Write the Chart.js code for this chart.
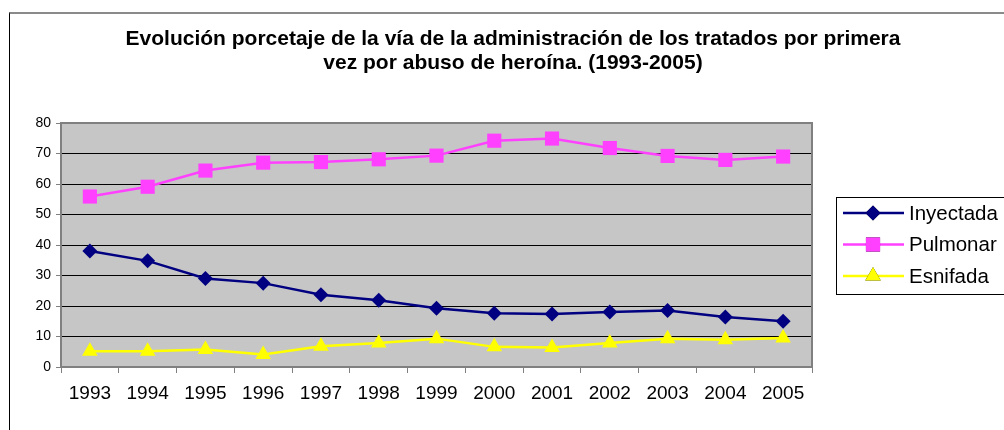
<!DOCTYPE html>
<html>
<head>
<meta charset="utf-8">
<script src="https://cdn.jsdelivr.net/npm/chart.js@4.4.1/dist/chart.umd.min.js"></script>
<style>
  html, body { margin: 0; padding: 0; background: #fff; }
  #wrap { position: relative; width: 1004px; height: 430px; overflow: hidden; }
  #frame { position: absolute; left: 9px; top: 12px; width: 1100px; height: 500px;
           border-left: 1px solid #000; border-top: 2px solid #8a8a8a; }
  canvas { position: absolute; left: 0; top: 0; }
</style>
</head>
<body>
<div id="wrap">
  <div id="frame"></div>
  <canvas id="chart" width="1004" height="430"></canvas>
</div>
<script>
// Data
const years = ['1993', '1994', '1995', '1996', '1997', '1998', '1999', '2000', '2001', '2002', '2003', '2004', '2005'];
const inyectada = [38.0, 34.8, 29.0, 27.5, 23.7, 21.9, 19.3, 17.6, 17.4, 18.0, 18.5, 16.4, 15.0];
const pulmonar = [55.9, 59.1, 64.4, 67.0, 67.2, 68.1, 69.3, 74.2, 74.9, 71.8, 69.2, 67.9, 69.0];
const esnifada = [5.2, 5.2, 5.7, 4.1, 6.8, 7.9, 9.3, 6.6, 6.4, 7.9, 9.3, 8.9, 9.5];
const yTicks = [0, 10, 20, 30, 40, 50, 60, 70, 80];

const titleLines = [
    'Evolución porcetaje de la vía de la administración de los tratados por primera',
    'vez por abuso de heroína. (1993-2005)'
];

const FONT = '"Liberation Sans", Arial, sans-serif';

const colors = {
    navy: '#000080',
    magenta: '#ff40ff',
    yellow: '#ffff00',
    plotBg: '#c6c6c6',
    axis: '#808080'
};

// gray plot area + gray top/right border
const plotBackground = {
    id: 'plotBackground',
    beforeDraw(chart) {
        const { ctx, chartArea: a } = chart;
        ctx.save();
        ctx.fillStyle = colors.plotBg;
        ctx.fillRect(a.left, a.top, a.right - a.left, a.bottom - a.top);
        ctx.restore();
    },
    beforeDatasetsDraw(chart) {
        const { ctx, chartArea: a } = chart;
        ctx.save();
        ctx.strokeStyle = colors.axis;
        ctx.lineWidth = 2;
        ctx.beginPath();
        ctx.moveTo(a.left, a.top);
        ctx.lineTo(a.right, a.top);
        ctx.lineTo(a.right, a.bottom);
        ctx.stroke();
        ctx.restore();
    }
};

// title centred on the whole frame, not just the plot
const frameTitle = {
    id: 'frameTitle',
    afterDraw(chart) {
        const { ctx } = chart;
        ctx.save();
        ctx.fillStyle = '#000';
        ctx.font = 'bold 21px ' + FONT;
        ctx.textAlign = 'center';
        ctx.textBaseline = 'middle';
        titleLines.forEach((line, i) => ctx.fillText(line, 513, 39 + i * 24));
        ctx.restore();
    }
};

// boxed legend on the right, as in the spreadsheet chart
const boxLegend = {
    id: 'boxLegend',
    afterDraw(chart) {
        const { ctx } = chart;
        ctx.save();
        ctx.strokeStyle = '#000';
        ctx.lineWidth = 1;
        ctx.strokeRect(836.5, 197.5, 200, 97);
        chart.data.datasets.forEach((ds, i) => {
            const y = 213 + i * 31.5;
            ctx.strokeStyle = ds.borderColor;
            ctx.lineWidth = 2.5;
            ctx.beginPath();
            ctx.moveTo(843, y);
            ctx.lineTo(904, y);
            ctx.stroke();
            Chart.helpers.drawPoint(ctx, {
                pointStyle: ds.pointStyle,
                radius: ds.pointRadius,
                borderWidth: 0
            }, 873, y);
            ctx.fillStyle = ds.pointBackgroundColor;
            ctx.fill();
            ctx.fillStyle = '#000';
            ctx.font = '20.5px ' + FONT;
            ctx.textBaseline = 'middle';
            ctx.fillText(ds.label, 909, y + 1);
        });
        ctx.restore();
    }
};

const ctx = document.getElementById('chart').getContext('2d');
new Chart(ctx, {
    type: 'line',
    data: {
        labels: years,
        datasets: [
            {
                label: 'Inyectada', data: inyectada,
                borderColor: colors.navy, backgroundColor: colors.navy,
                pointBackgroundColor: colors.navy, pointBorderColor: colors.navy,
                pointStyle: 'rectRot', pointRadius: 7.5, pointBorderWidth: 0, borderWidth: 2.5
            },
            {
                label: 'Pulmonar', data: pulmonar,
                borderColor: colors.magenta, backgroundColor: colors.magenta,
                pointBackgroundColor: colors.magenta, pointBorderColor: colors.magenta,
                pointStyle: 'rect', pointRadius: 10, pointBorderWidth: 0, borderWidth: 2.5
            },
            {
                label: 'Esnifada', data: esnifada,
                borderColor: colors.yellow, backgroundColor: colors.yellow,
                pointBackgroundColor: colors.yellow, pointBorderColor: colors.yellow,
                pointStyle: 'triangle', pointRadius: 9, pointBorderWidth: 0, borderWidth: 2.5
            }
        ]
    },
    options: {
        responsive: false,
        animation: false,
        devicePixelRatio: 1,
        layout: { padding: { left: 10, right: 192, top: 123, bottom: 23 } },
        plugins: {
            legend: { display: false },
            tooltip: { enabled: false },
            title: { display: false }
        },
        scales: {
            x: {
                offset: true,
                afterFit: s => { s.height = 40; },
                grid: {
                    offset: true, drawOnChartArea: false, drawTicks: true,
                    tickLength: 6, color: colors.axis, lineWidth: 1
                },
                border: { display: true, color: colors.axis, width: 2 },
                ticks: {
                    color: '#000', padding: 9,
                    font: { family: FONT, size: 19 },
                    maxRotation: 0, autoSkip: false
                }
            },
            y: {
                min: 0, max: 80,
                afterFit: s => { s.width = 51; },
                afterBuildTicks: s => { s.ticks = yTicks.map(v => ({ value: v })); },
                grid: {
                    color: c => (c.tick && (c.tick.value === 0 || c.tick.value === 80)) ? 'rgba(0,0,0,0)' : '#000',
                    lineWidth: 1, drawTicks: true, tickLength: 5,
                    tickColor: colors.axis
                },
                border: { display: true, color: colors.axis, width: 2 },
                ticks: {
                    color: '#000', padding: 5,
                    font: { family: FONT, size: 14 }
                }
            }
        }
    },
    plugins: [plotBackground, frameTitle, boxLegend]
});
</script>
</body>
</html>
